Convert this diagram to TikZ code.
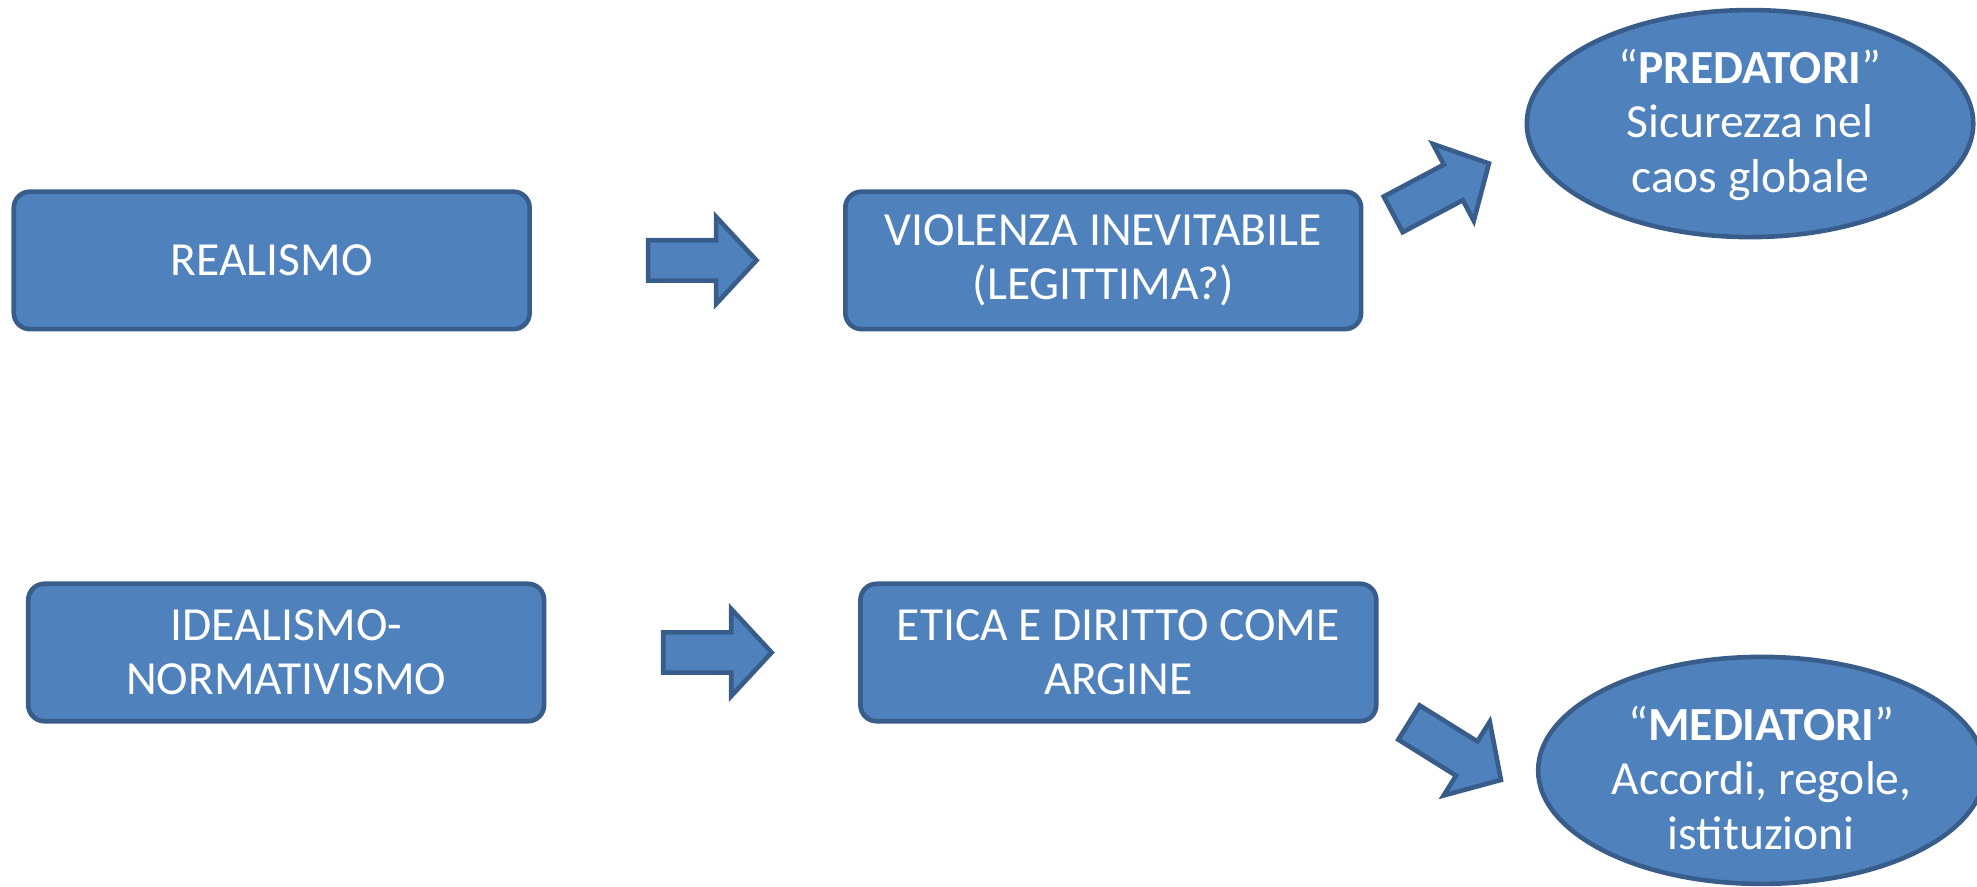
\documentclass[tikz,border=0pt]{standalone}
\usepackage{fontspec}
\setmainfont{Carlito}
\usetikzlibrary{shapes.geometric}
\definecolor{boxfill}{HTML}{4F81BD}
\definecolor{boxline}{HTML}{385D8A}
\tikzset{
  shapebase/.style={fill=boxfill,draw=boxline,line width=1.3pt},
  roundbox/.style={shapebase,rectangle,rounded corners=0.16cm,
    minimum width=5.1125cm,minimum height=1.3625cm,inner sep=0pt},
  oval/.style={shapebase,ellipse,minimum width=4.425cm,minimum height=2.25cm,inner sep=0pt},
  label text/.style={text=white,align=center,inner sep=0pt,
    font=\fontsize{13.4}{15.3}\selectfont},
  pics/blockarrow/.style={code={
    \draw[shapebase,line join=miter] (0,-16) -- (54,-16) -- (54,-34.5) -- (86,0)
      -- (54,34.5) -- (54,16) -- (0,16) -- cycle;}}
}
\begin{document}
\begin{tikzpicture}[x=0.0125cm,y=-0.0125cm]
\useasboundingbox (0,0) rectangle (1568,703);
% boxes
\node[roundbox] (real) at (215.5,206.5) {};
\node[label text] (realt) at (real.center) {REALISMO};
\node[roundbox] (viol) at (875,206.5) {};
\node[label text] (violt) at (viol.center) {VIOLENZA INEVITABILE\\(LEGITTIMA?)};
\node[roundbox] (ideal) at (227,517.5) {};
\node[label text] (idealt) at (ideal.center) {IDEALISMO-\\NORMATIVISMO};
\node[roundbox] (etica) at (887,517.5) {};
\node[label text] (eticat) at (etica.center) {ETICA E DIRITTO COME\\ARGINE};
% ellipses
\node[oval] (pred) at (1388,98) {};
\node[label text] (predt) at (1388,99) {“\textbf{PREDATORI}”\\Sicurezza nel\\caos globale};
\node[oval] (medi) at (1397,611) {};
\node[label text] (medit) at (1397,617) {“\textbf{MEDIATORI}”\\Accordi, regole,\\istituzioni};
% block arrows
\coordinate (a1) at (514,206.5);
\coordinate (a2) at (526,517.5);
\coordinate (a3) at (1105,170);
\coordinate (a4) at (1117.5,573);
\pic at (a1) {blockarrow};
\pic at (a2) {blockarrow};
\pic[rotate=28] at (a3) {blockarrow};
\pic[rotate=-32] at (a4) {blockarrow};
\end{tikzpicture}
\end{document}
